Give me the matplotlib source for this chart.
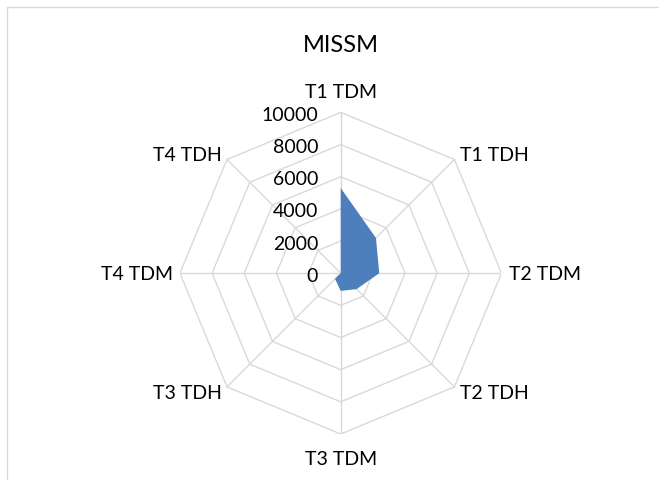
import numpy as np
import matplotlib.pyplot as plt
from matplotlib.patches import Rectangle

# data
categories = ["T1 TDM", "T1 TDH", "T2 TDM", "T2 TDH", "T3 TDM", "T3 TDH", "T4 TDM", "T4 TDH"]
values = [5300, 3100, 2400, 1400, 1100, 500, 0, 0]
rings = [2000, 4000, 6000, 8000, 10000]
ring_labels = ["0", "2000", "4000", "6000", "8000", "10000"]
rmax = 10000

plt.rcParams['font.family'] = ['Lato', 'DejaVu Sans']

W, H = 659, 481
fig = plt.figure(figsize=(W / 100, H / 100), dpi=100)
fig.patches.append(Rectangle((7 / W, -0.1), 1.2, (H - 8) / H + 0.1, transform=fig.transFigure,
                             fill=False, edgecolor='#D9D9D9', linewidth=1))

# centre (340.7, 274.2) px, radius 160.8 px
cx, cy, R = 340.7, 274.2, 160.8
ax = fig.add_axes([(cx - R) / W, (H - cy - R) / H, 2 * R / W, 2 * R / H])
ax.set_xlim(-rmax, rmax)
ax.set_ylim(-rmax, rmax)
ax.axis('off')

n = len(categories)
ang = np.arange(n) * 2 * np.pi / n
sx, sy = np.sin(ang), np.cos(ang)

# octagonal grid
for r in rings:
    ax.plot(np.append(r * sx, r * sx[0]), np.append(r * sy, r * sy[0]),
            color='#D9D9D9', linewidth=1, zorder=1)
for i in range(n):
    ax.plot([0, rmax * sx[i]], [0, rmax * sy[i]], color='#D9D9D9', linewidth=1, zorder=1)

v = np.array(values)
ax.fill(v * sx, v * sy, color='#4E7FBD', zorder=3, linewidth=0)

# value axis labels
for k, lab in enumerate(ring_labels):
    ax.text(-1400, k * 2000 - 130, lab, ha='right', va='center', fontsize=14, color='#000000', clip_on=False)

# category labels
for i, lab in enumerate(categories):
    r = 10450
    x, y = r * sx[i], r * sy[i]
    if abs(sx[i]) < 1e-6:
        ha = 'center'
        va = 'bottom' if sy[i] > 0 else 'top'
        y = 10750 if sy[i] > 0 else -11000
    else:
        ha = 'left' if sx[i] > 0 else 'right'
        va = 'center'
    ax.text(x, y, lab, ha=ha, va=va, fontsize=14, clip_on=False)

fig.text(cx / W, 1 - 46 / H, "MISSM", ha='center', va='center', fontsize=17)

fig.savefig('out.png', dpi=100, facecolor='white')
